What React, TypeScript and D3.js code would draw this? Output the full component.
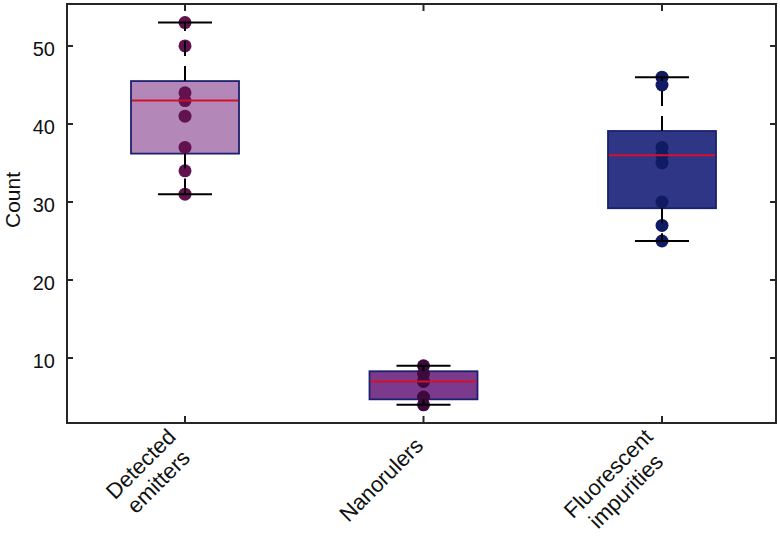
import React from "react";
import * as d3 from "d3";

const categories: string[][] = [["Detected", "emitters"], ["Nanorulers"], ["Fluorescent", "impurities"]];
const pointsDetected = [53, 50, 44, 43, 41, 37, 34, 31];
const pointsNanorulers = [9, 8, 7, 5, 4];
const pointsImpurities = [46, 45, 37, 36, 35, 30, 27, 25];
const whiskerLow = [31, 4, 25];
const quartile1 = [36.2, 4.7, 29.2];
const medians = [43, 7, 36];
const quartile3 = [45.5, 8.3, 39.1];
const whiskerHigh = [53, 9, 46];
const yTicks = [10, 20, 30, 40, 50];

const boxFills = ["#b388b8", "#7b3a8b", "#2f3686"];
const dotFills = ["#62124f", "#3c0a3c", "#0f1b63"];

const FONT = "'Liberation Sans', Arial, Helvetica, sans-serif";

function measure(text: string, size: number): number {
  const c = document.createElement("canvas");
  const ctx = c.getContext("2d");
  if (!ctx) return text.length * size * 0.5;
  ctx.font = `${size}px 'Liberation Sans', Arial`;
  return ctx.measureText(text).width;
}

export default function App() {
  const W = 780, H = 536;
  const left = 67, right = 776, top = 4, bottom = 423;
  const x = d3.scaleLinear().domain([1, 3]).range([185, 662]);
  const y = d3.scaleLinear().domain([1.667, 55.38]).range([bottom, top]);
  const pts = [pointsDetected, pointsNanorulers, pointsImpurities];
  const boxHalf = 54;
  const capHalf = 27;
  const tickFont = 20;
  const xFont = 22;
  const lh = 25;

  return (
    <svg width={W} height={H} style={{ position: "absolute", left: 0, top: 0 }} fontFamily={FONT}>
      <rect x={0} y={0} width={W} height={H} fill="#fff" />
      {categories.map((_, i) => {
        const cx = x(i + 1);
        return (
          <g key={"box" + i}>
            <rect x={cx - boxHalf} y={y(quartile3[i])} width={boxHalf * 2} height={y(quartile1[i]) - y(quartile3[i])}
              fill={boxFills[i]} stroke="#1c2070" strokeWidth={1.8} />
            {pts[i].map((v, j) => (
              <circle key={j} cx={cx} cy={y(v)} r={6.5} fill={dotFills[i]} />
            ))}
            <line x1={cx} x2={cx} y1={y(quartile3[i])} y2={y(whiskerHigh[i])} stroke="#000" strokeWidth={2} strokeDasharray="15,10" />
            <line x1={cx} x2={cx} y1={y(quartile1[i])} y2={y(whiskerLow[i])} stroke="#000" strokeWidth={2} strokeDasharray="15,10" />
            <line x1={cx - capHalf} x2={cx + capHalf} y1={y(whiskerHigh[i])} y2={y(whiskerHigh[i])} stroke="#000" strokeWidth={2} />
            <line x1={cx - capHalf} x2={cx + capHalf} y1={y(whiskerLow[i])} y2={y(whiskerLow[i])} stroke="#000" strokeWidth={2} />
            <line x1={cx - boxHalf + 1} x2={cx + boxHalf - 1} y1={y(medians[i])} y2={y(medians[i])} stroke="#d4112b" strokeWidth={2} />
          </g>
        );
      })}
      <rect x={left} y={top} width={right - left} height={bottom - top} fill="none" stroke="#262626" strokeWidth={2} />
      {yTicks.map((t) => (
        <g key={"yt" + t}>
          <line x1={left} x2={left + 6} y1={y(t)} y2={y(t)} stroke="#262626" strokeWidth={2} />
          <line x1={right - 6} x2={right} y1={y(t)} y2={y(t)} stroke="#262626" strokeWidth={2} />
          <text x={55} y={y(t) + 10} textAnchor="end" fontSize={tickFont} fill="#111">{t}</text>
        </g>
      ))}
      {categories.map((lines, i) => {
        const cx = x(i + 1);
        const maxW = Math.max(...lines.map((l) => measure(l, xFont)));
        const n = lines.length;
        return (
          <g key={"xt" + i}>
            <line x1={cx} x2={cx} y1={bottom} y2={bottom - 7} stroke="#262626" strokeWidth={2} />
            <line x1={cx} x2={cx} y1={top} y2={top + 7} stroke="#262626" strokeWidth={2} />
            <g transform={`translate(${cx + 1},${447}) rotate(-45)`}>
              {lines.map((l, k) => (
                <text key={k} x={-maxW / 2} y={(k - (n - 1) / 2) * lh} textAnchor="middle" fontSize={xFont} fill="#111">{l}</text>
              ))}
            </g>
          </g>
        );
      })}
      <text transform={`translate(20,200) rotate(-90)`} textAnchor="middle" fontSize={21} fill="#111">Count</text>
    </svg>
  );
}
